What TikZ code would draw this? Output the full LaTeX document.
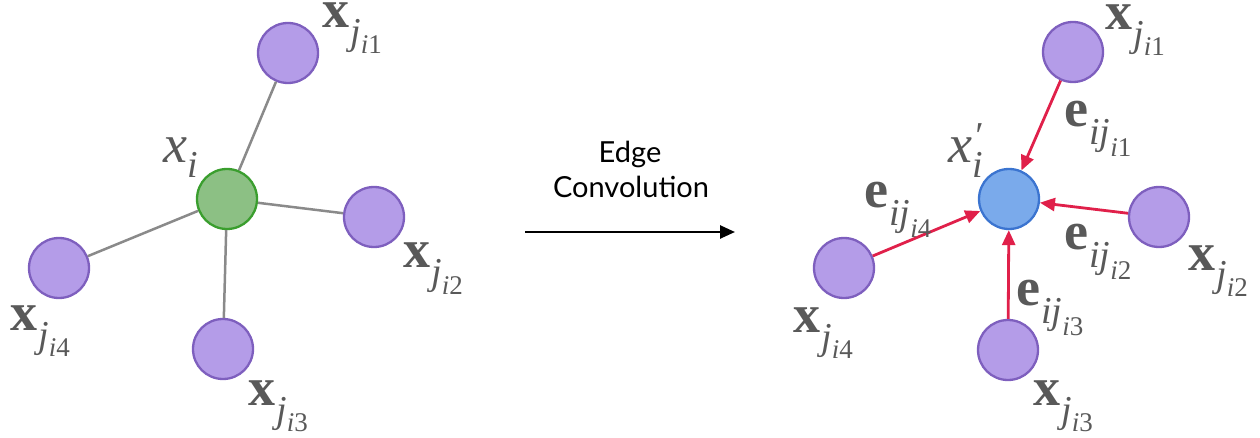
\documentclass[tikz,border=0pt]{standalone}
\usepackage{fontspec}
\newfontfamily\labelfont{Lato}
\newfontfamily\tms{Liberation Serif}
\usetikzlibrary{arrows.meta}
\definecolor{pfill}{HTML}{B49CE8}
\definecolor{pdraw}{HTML}{7E5FBE}
\definecolor{gfill}{HTML}{8CC084}
\definecolor{gdraw}{HTML}{3A9E2E}
\definecolor{bfill}{HTML}{7AAAEB}
\definecolor{bdraw}{HTML}{3B74D0}
\definecolor{edgegray}{HTML}{8A8A8A}
\definecolor{arrred}{HTML}{E0204A}
\definecolor{labgray}{HTML}{595959}
% bold main letter with subscript #2 and sub-subscript i#3
\newcommand{\vlab}[5]{{\fontsize{54}{54}\selectfont\textbf{#1}}\raisebox{-#4}{\fontsize{38}{38}\selectfont\kern1pt\textit{#2}\raisebox{-#5}{\fontsize{27}{27}\selectfont\textit{i}#3}}}
\tikzset{
  nb/.style={circle, fill=pfill, draw=pdraw, line width=2.3pt, minimum size=60pt, inner sep=0pt},
  ctrg/.style={circle, fill=gfill, draw=gdraw, line width=2.3pt, minimum size=60pt, inner sep=0pt},
  ctrb/.style={circle, fill=bfill, draw=bdraw, line width=2.3pt, minimum size=60pt, inner sep=0pt},
  lab/.style={text=labgray, font=\tms, inner sep=0pt, anchor=base west},
  plain/.style={draw=edgegray, line width=2.5pt},
  redarr/.style={draw=arrred, line width=2.8pt, -{Triangle[length=15pt,width=13pt]}},
  captxt/.style={font=\labelfont\fontsize{29}{35}\selectfont, anchor=base, inner sep=0pt},
}
\begin{document}
\begin{tikzpicture}[x=1pt,y=-1pt]
\useasboundingbox (0,0) rectangle (1260,438);
% left graph
\node[ctrg] (c) at (227,199) {};
\node[nb] (a1) at (288,53) {};
\node[nb] (a2) at (374,217) {};
\node[nb] (a3) at (223,349) {};
\node[nb] (a4) at (59,268) {};
\draw[plain] (c) -- (a1);
\draw[plain] (c) -- (a2);
\draw[plain] (c) -- (a3);
\draw[plain] (c) -- (a4);
\node[lab] (lxi) at (163,163) {{\fontsize{54}{54}\selectfont\textit{x}}\raisebox{-15pt}{\fontsize{38}{38}\selectfont\textit{i}}};
\node[lab] (la1) at (322,28) {\vlab{x}{j}{1}{17pt}{9pt}};
\node[lab] (la2) at (403,268) {\vlab{x}{j}{2}{17pt}{9pt}};
\node[lab] (la3) at (248,405) {\vlab{x}{j}{3}{17pt}{9pt}};
\node[lab] (la4) at (10,330) {\vlab{x}{j}{4}{17pt}{9pt}};
% middle arrow
\coordinate (s) at (525,232);
\coordinate (t) at (735,232);
\draw[line width=2.5pt, -{Triangle[length=15pt,width=13pt]}] (s) -- (t);
\node[captxt] (txt1) at (630,163) {Edge};
\node[captxt] (txt2) at (631,198) {Convolution};
% right graph
\node[ctrb] (d) at (1009,199) {};
\node[nb] (b1) at (1073,52) {};
\node[nb] (b2) at (1159,217) {};
\node[nb] (b3) at (1008,350) {};
\node[nb] (b4) at (844,268) {};
\draw[redarr] (b1) -- (d);
\draw[redarr] (b2) -- (d);
\draw[redarr] (b3) -- (d);
\draw[redarr] (b4) -- (d);
\node[lab] (lxp) at (948,163) {{\fontsize{54}{54}\selectfont\textit{x}}\raisebox{-15pt}{\fontsize{38}{38}\selectfont\textit{i}}\kern-9pt\raisebox{14pt}{\fontsize{38}{38}\selectfont\textit{\char"2032}}};
\node[lab] (le1) at (1064,127) {\vlab{e}{ij}{1}{18pt}{12pt}};
\node[lab] (le2) at (1064,250) {\vlab{e}{ij}{2}{18pt}{12pt}};
\node[lab] (le3) at (1016,305) {\vlab{e}{ij}{3}{18pt}{12pt}};
\node[lab] (le4) at (864,208) {\vlab{e}{ij}{4}{18pt}{12pt}};
\node[lab] (lb1) at (1105,30) {\vlab{x}{j}{1}{17pt}{9pt}};
\node[lab] (lb2) at (1188,270) {\vlab{x}{j}{2}{17pt}{9pt}};
\node[lab] (lb3) at (1033,405) {\vlab{x}{j}{3}{17pt}{9pt}};
\node[lab] (lb4) at (793,332) {\vlab{x}{j}{4}{17pt}{9pt}};
\end{tikzpicture}
\end{document}
